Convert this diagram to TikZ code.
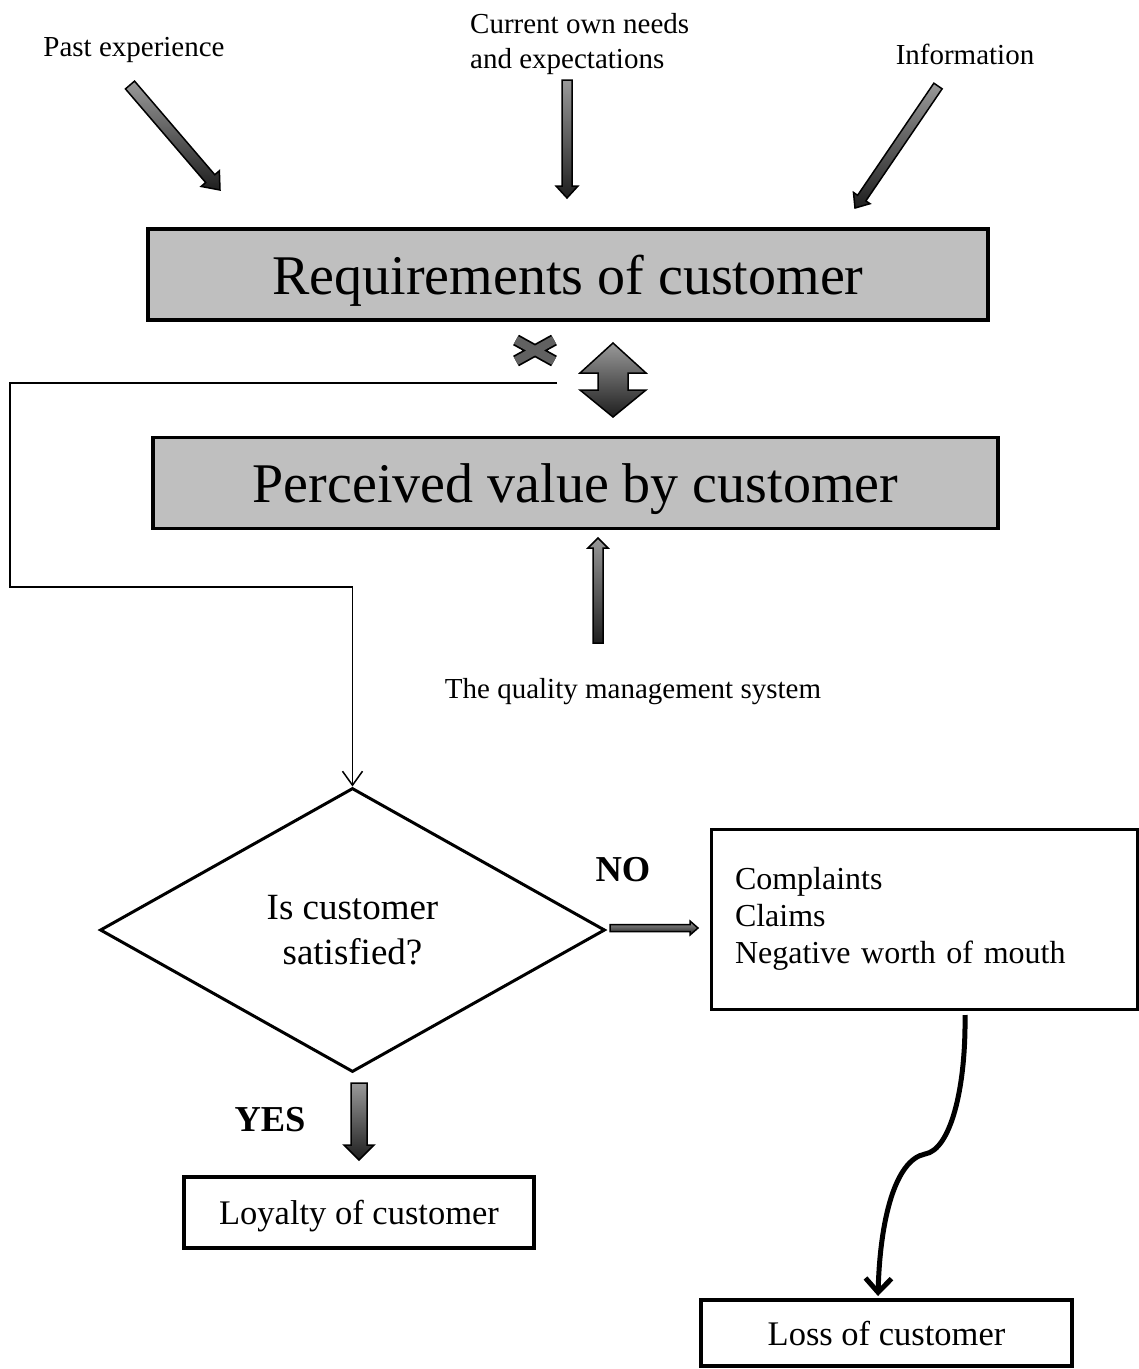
\documentclass[tikz,border=0pt]{standalone}
\usepackage{fontspec}
\setmainfont{Liberation Serif}
\usetikzlibrary{shapes.geometric,calc,arrows.meta}
\definecolor{boxgray}{RGB}{191,191,191}
\tikzstyle{small} = [font=\fontsize{29}{35}\selectfont, inner sep=0pt]
\tikzstyle{bigbox} = [draw, line width=3.5pt, fill=boxgray, minimum width=840pt, minimum height=91pt, text depth=0pt, font=\fontsize{56}{67}\selectfont]
\tikzstyle{decision} = [diamond, draw, line width=3pt, minimum width=505pt, minimum height=284pt, inner sep=0pt, text depth=0pt, align=center, font=\fontsize{37}{45}\selectfont]
\tikzstyle{outbox} = [draw, line width=3pt, font=\fontsize{32}{37}\selectfont]
\tikzstyle{endbox} = [draw, line width=3.5pt, text depth=0pt, font=\fontsize{34.5}{41}\selectfont]
\tikzstyle{answer} = [font=\fontsize{36.5}{44}\selectfont\bfseries]
\tikzstyle{fat} = [draw=black, line width=1.5pt, line join=miter, top color=black!40, bottom color=black!88]
\tikzstyle{thin} = [line width=1.5pt, -{Straight Barb[length=14pt,width=20pt]}]
\tikzstyle{curvy} = [line width=5pt, -{Straight Barb[length=14pt,width=26pt]}]
% block arrow: from, to, half shaft, half head, head length
\newcommand{\fatarrow}[5]{%
  \coordinate (fh) at ($(#2)!#5!(#1)$);
  \path[fat] ($(#1)!#3!90:(#2)$) -- ($(fh)!#3!90:(#2)$) -- ($(fh)!#4!90:(#2)$) -- (#2)
    -- ($(fh)!#4!-90:(#2)$) -- ($(fh)!#3!-90:(#2)$) -- ($(#1)!#3!-90:(#2)$) -- cycle;
}
\begin{document}
\begin{tikzpicture}[x=1pt, y=-1pt]
\useasboundingbox (0,0) rectangle (1139,1369);

% inputs
\node[small] (past) at (134,50) {Past experience};
\node[small, align=left, anchor=west] (curr) at (470,44) {Current own needs\\and expectations};
\node[small] (info) at (965,54) {Information};

\node[bigbox] (req) at (568,274.5) {Requirements of customer};
\node[bigbox, minimum width=845pt] (perc) at (575.5,483) {Perceived value by customer};
\node[small] (qms) at (633,692) {The quality management system};

% decision
\node[decision] (dia) at (352.5,930) {Is customer\\satisfied?};
\node[answer] (no) at (623,870) {NO};
\node[answer] (yes) at (270,1120) {YES};
\node[outbox, text width=378pt, inner xsep=24pt, align=left, minimum height=180pt] (compl) at (924,919)
    {Complaints\\Claims\\Negative worth of mouth};
\node[endbox, minimum width=350pt, minimum height=71pt] (loyal) at (359,1212.5) {Loyalty of customer};
\node[endbox, minimum width=371pt, minimum height=66pt] (loss) at (886.5,1333) {Loss of customer};

% block arrows
\coordinate (pastA) at (130,85);  \coordinate (pastB) at (220,190);
\coordinate (currA) at (567,80);  \coordinate (currB) at (567,198);
\coordinate (infoA) at (938,86);  \coordinate (infoB) at (855,208);
\coordinate (qmsA) at (598,643);  \coordinate (qmsB) at (598,538);
\coordinate (noA) at (610,928);   \coordinate (noB) at (698,928);
\coordinate (yesA) at (359,1083); \coordinate (yesB) at (359,1160);
\fatarrow{pastA}{pastB}{6pt}{12pt}{15pt}
\fatarrow{currA}{currB}{5pt}{11pt}{12pt}
\fatarrow{infoA}{infoB}{5pt}{10pt}{12pt}
\fatarrow{qmsA}{qmsB}{5pt}{10pt}{10pt}
\fatarrow{noA}{noB}{3.5pt}{7pt}{8pt}
\fatarrow{yesA}{yesB}{8pt}{15pt}{15pt}

% compare
\path[fat] (613,343) -- (646,373) -- (628,373) -- (628,390) -- (646,390) -- (613,417)
    -- (580,390) -- (598,390) -- (598,373) -- (580,373) -- cycle;
\draw[line width=12pt, black] (516,340) -- (554,361) (516,361) -- (554,340);
\draw[line width=8.5pt, black!62] (516,340) -- (554,361) (516,361) -- (554,340);

% feedback line
\coordinate (fbA) at (557,383);
\coordinate (fbB) at (10,383);
\coordinate (fbC) at (10,587);
\draw[thin] (fbA) -- (fbB) -- (fbC) -| (dia.north);

% to loss
\coordinate (cvA) at (965,1015);
\coordinate (cvB) at (878,1296);
\draw[curvy] (cvA) .. controls (966,1090) and (950,1150) .. (925,1154)
    .. controls (895,1160) and (880,1220) .. (cvB);
\end{tikzpicture}
\end{document}
